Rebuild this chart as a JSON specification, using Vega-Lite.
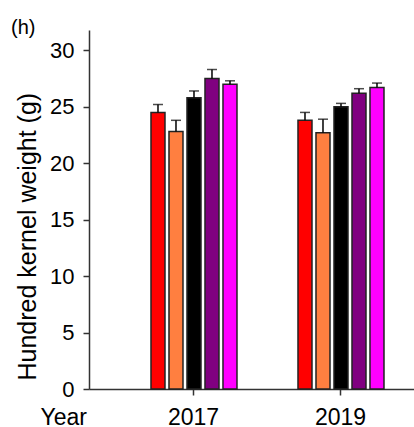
{
  "$schema": "https://vega.github.io/schema/vega-lite/v6.json",
  "autosize": {"type": "none"},
  "padding": {"left": 89, "top": 30, "right": 0, "bottom": 38},
  "width": 325,
  "height": 359,
  "title": {"text": "(h)", "anchor": "start", "frame": "group", "dx": -78, "dy": 25, "offset": 1, "baseline": "alphabetic", "fontSize": 20, "font": "Liberation Sans", "fontWeight": "normal", "color": "black"},
  "config": {"view": {"stroke": null}, "font": "Liberation Sans", "axis": {"grid": false}},
  "data": {"values": [
    {"year": "2017", "trt": "A", "mean": 24.5, "upper": 25.2},
    {"year": "2017", "trt": "B", "mean": 22.8, "upper": 23.8},
    {"year": "2017", "trt": "C", "mean": 25.8, "upper": 26.4},
    {"year": "2017", "trt": "D", "mean": 27.5, "upper": 28.3},
    {"year": "2017", "trt": "E", "mean": 27.0, "upper": 27.3},
    {"year": "2019", "trt": "A", "mean": 23.8, "upper": 24.5},
    {"year": "2019", "trt": "B", "mean": 22.7, "upper": 23.9},
    {"year": "2019", "trt": "C", "mean": 25.0, "upper": 25.3},
    {"year": "2019", "trt": "D", "mean": 26.2, "upper": 26.6},
    {"year": "2019", "trt": "E", "mean": 26.7, "upper": 27.1}
  ]},
  "encoding": {
    "x": {"field": "year", "type": "nominal", "scale": {"paddingInner": 0, "paddingOuter": 0.1054, "align": 1},
      "axis": {"title": "Year", "labelAngle": 0, "labelFontSize": 23, "labelColor": "black", "labelPadding": 11,
        "tickSize": 6, "tickWidth": 1.5, "tickColor": "#333", "domainColor": "#333", "domainWidth": 1.5,
        "titleFontSize": 23, "titleFontWeight": "normal", "titleColor": "black", "titleX": -49, "titleY": 17,
        "titleAlign": "left", "titleBaseline": "top"}},
    "xOffset": {"field": "trt", "type": "nominal", "scale": {"paddingInner": 0.222, "paddingOuter": 0, "range": [31, 117]}},
    "y": {"field": "mean", "type": "quantitative", "scale": {"domain": [0, 31.8], "nice": false},
         "axis": {"title": "Hundred kernel weight (g)", "values": [0, 5, 10, 15, 20, 25, 30], "labelFontSize": 22, "labelColor": "black", "labelPadding": 9,
           "tickSize": 6, "tickWidth": 1.5, "tickColor": "#333", "domainColor": "#333", "domainWidth": 1.5,
           "titleFontSize": 25, "titleFontWeight": "normal", "titleColor": "black", "titleAnchor": "start", "titleX": -49, "titleY": 350, "titleBaseline": "bottom", "titleAlign": "left", "titleAngle": -90}}
  },
  "layer": [
    {"mark": {"type": "bar", "stroke": "#222", "strokeWidth": 1.5},
     "encoding": {
       "color": {"field": "trt", "type": "nominal", "scale": {"range": ["#FF0000", "#FF7F40", "#000000", "#800080", "#FF00FF"]}, "legend": null}
     }},
    {"mark": {"type": "rule", "color": "black", "strokeWidth": 1.5},
     "encoding": {"y2": {"field": "upper"}}},
    {"mark": {"type": "tick", "color": "black", "thickness": 1.5, "size": 10, "orient": "horizontal"},
     "encoding": {"y": {"field": "upper", "type": "quantitative"}}}
  ]
}
